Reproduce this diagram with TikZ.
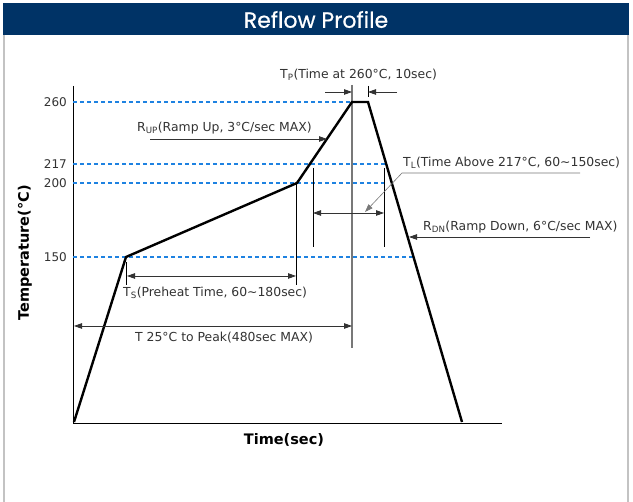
\documentclass[tikz,border=0pt]{standalone}
\usepackage{fontspec}
\setmainfont{DejaVu Sans}
\newfontfamily\titlefont[FakeBold=0.6]{Poppins}
\usetikzlibrary{arrows.meta}
\definecolor{navy}{RGB}{0,51,102}
\definecolor{dashblue}{RGB}{30,130,225}
\definecolor{txt}{RGB}{51,51,51}
\definecolor{framegray}{RGB}{195,195,195}
\definecolor{midgray}{RGB}{120,120,120}
\tikzset{
  lbl/.style={font=\fontsize{12.4}{14}\selectfont, text=txt, inner sep=0pt},
  tick/.style={font=\fontsize{12}{14}\selectfont, text=txt, inner sep=0pt, anchor=east},
  guide/.style={dashblue, line width=1.1pt, dash pattern=on 4pt off 3pt},
  profile/.style={black, line width=2.4pt, line join=miter},
  thin/.style={black, line width=0.8pt},
  arr/.style={txt, line width=0.8pt, -{Triangle[length=8pt,width=5.5pt]}},
  darr/.style={txt, line width=0.8pt, {Triangle[length=8pt,width=5.5pt]}-{Triangle[length=8pt,width=5.5pt]}},
  leader/.style={midgray, line width=0.6pt, -{Triangle[length=8pt,width=5.5pt]}},
}
\begin{document}
\begin{tikzpicture}[x=1pt,y=-1pt]
\useasboundingbox (0,0) rectangle (633,502);
\fill[white] (0,0) rectangle (633,502);
% frame
\draw[framegray, line width=1.2pt] (4,3) -- (4,502);
\draw[framegray, line width=1.2pt] (628,3) -- (628,502);
\fill[navy] (3,3) rectangle (629,35);
\node[text=white, font=\titlefont\fontsize{22}{24}\selectfont] (title) at (316,19.5) {Reflow Profile};

% axes
\coordinate (ytop) at (73,86);
\coordinate (orig) at (73,423);
\coordinate (xend) at (502,423);
\draw[thin] (ytop) -- (orig) -- (xend);

% profile points
\coordinate (p0) at (74,422);
\coordinate (p1) at (126,257);
\coordinate (p2) at (297,183);
\coordinate (p3) at (352,102);
\coordinate (p4) at (368,102);
\coordinate (p5) at (462,422);

% guides
\draw[guide] (73,102) -- (p3);
\draw[guide] (73,164) -- (385,164);
\draw[guide] (73,183) -- (385,183);
\draw[guide] (73,257) -- (414,257);

% tick labels
\node[tick] (t260) at (67,102) {260};
\node[tick] (t217) at (67,164) {217};
\node[tick] (t200) at (67,183) {200};
\node[tick] (t150) at (67,257) {150};

% peak vertical (gray)
\coordinate (pv1) at (352,85);
\coordinate (pv2) at (352,348);
\draw[midgray, line width=1.3pt] (pv1) -- (pv2);

% profile
\draw[profile] (p0) -- (p1) -- (p2) -- (p3) -- (p4) -- (p5);

% TP marker
\coordinate (tp1) at (368,86);
\coordinate (tp2) at (368,97);
\draw[thin] (tp1) -- (tp2);
\coordinate (tpa) at (325,92);
\coordinate (tpb) at (352,92);
\coordinate (tpc) at (397,92);
\coordinate (tpd) at (368,92);
\draw[arr] (tpa) -- (tpb);
\draw[arr] (tpc) -- (tpd);
\node[lbl, anchor=west] (tpl) at (280,75) {T\textsubscript{P}(Time at 260°C, 10sec)};

% RUP
\node[lbl, anchor=west] (rup) at (137,128) {R\textsubscript{UP}(Ramp Up, 3°C/sec MAX)};
\coordinate (rupa) at (150,139);
\coordinate (rupb) at (327,139);
\draw[arr] (rupa) -- (rupb);

% vertical markers
\coordinate (v1a) at (126,262);
\coordinate (v1b) at (126,285);
\coordinate (v2a) at (296,183);
\coordinate (v2b) at (296,285);
\coordinate (v3a) at (313,168);
\coordinate (v3b) at (313,247);
\coordinate (v4a) at (384,168);
\coordinate (v4b) at (384,247);
\draw[thin] (v1a) -- (v1b);
\draw[thin] (v2a) -- (v2b);
\draw[thin] (v3a) -- (v3b);
\draw[thin] (v4a) -- (v4b);

% TL
\coordinate (tla) at (313,213);
\coordinate (tlb) at (384,213);
\draw[darr] (tla) -- (tlb);
\node[lbl, anchor=west] (tll) at (403,163) {T\textsubscript{L}(Time Above 217°C, 60\textasciitilde150sec)};
\coordinate (tll1) at (580,173);
\coordinate (tll2) at (402,173);
\coordinate (tll3) at (365,212);
\draw[leader] (tll1) -- (tll2) -- (tll3);

% RDN
\node[lbl, anchor=west] (rdn) at (423,227) {R\textsubscript{DN}(Ramp Down, 6°C/sec MAX)};
\coordinate (rdna) at (590,237);
\coordinate (rdnb) at (409,237);
\draw[arr] (rdna) -- (rdnb);

% TS
\coordinate (tsa) at (127,276);
\coordinate (tsb) at (296,276);
\draw[darr] (tsa) -- (tsb);
\node[lbl, anchor=west] (tsl) at (123,293) {T\textsubscript{S}(Preheat Time, 60\textasciitilde180sec)};

% T25
\coordinate (ta) at (74,326);
\coordinate (tb) at (352,326);
\draw[darr] (ta) -- (tb);
\node[lbl, anchor=west] (t25) at (135,338) {T 25°C to Peak(480sec MAX)};

% axis titles
\node[font=\bfseries\fontsize{14.5}{16}\selectfont, rotate=90, inner sep=0pt] (ylab) at (25,253) {Temperature(°C)};
\node[font=\bfseries\fontsize{14.5}{16}\selectfont, inner sep=0pt] (xlab) at (284,440) {Time(sec)};
\end{tikzpicture}
\end{document}
